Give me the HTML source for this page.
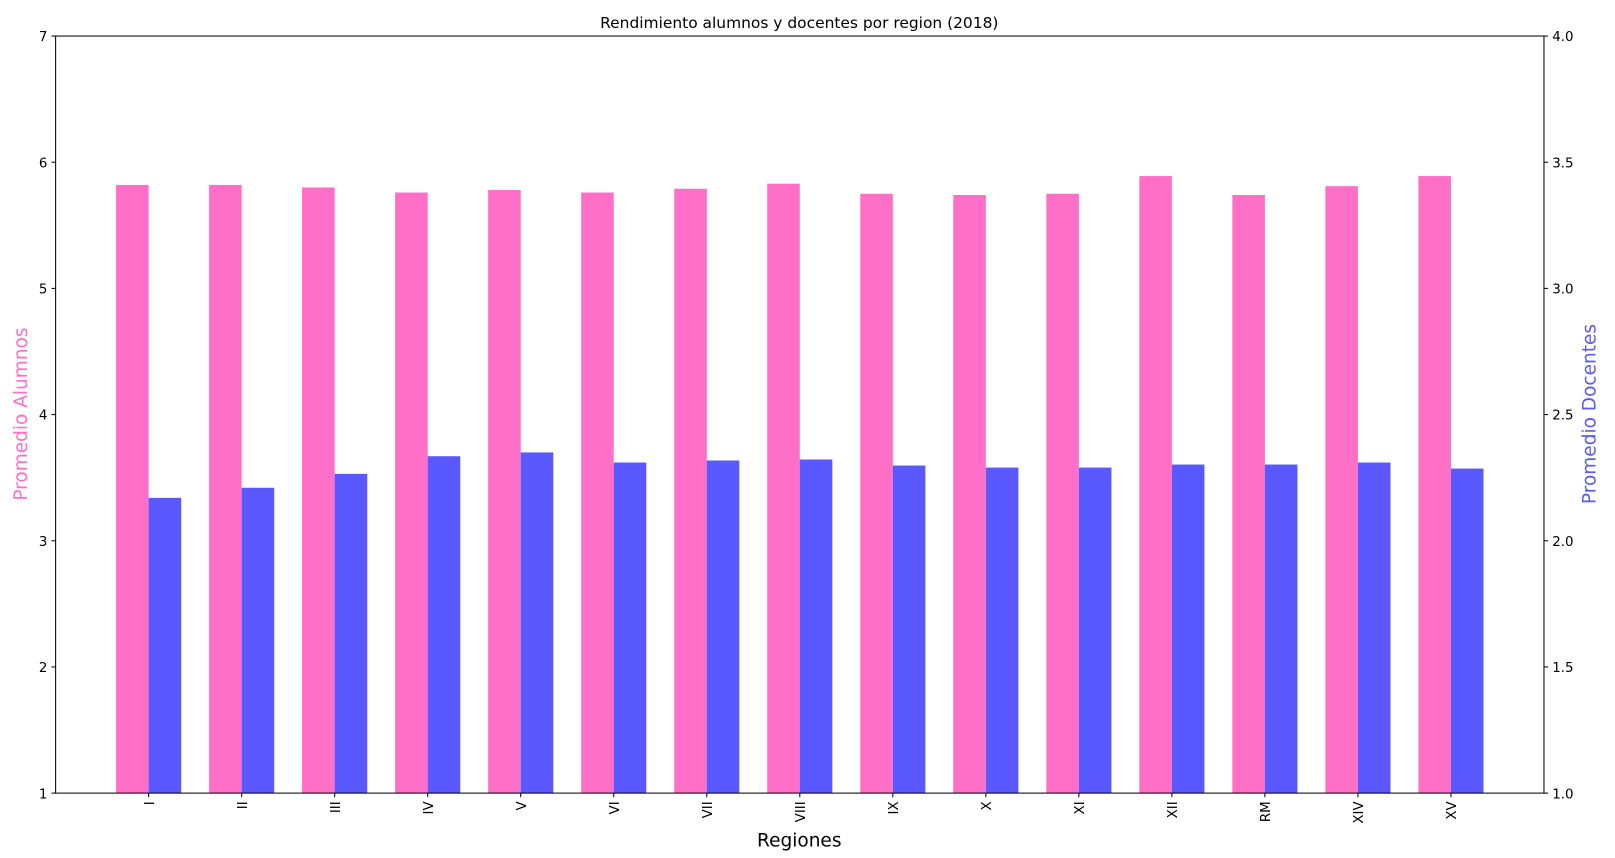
<!DOCTYPE html>
<html><head><meta charset="utf-8"><style>
body{margin:0;background:#fff;}
svg text{font-family:"DejaVu Sans","Liberation Sans",sans-serif;}
</style></head><body>
<svg id="chart" width="1615" height="853" xmlns="http://www.w3.org/2000/svg">
<g transform="scale(1.03)">
<text x="776" y="27" font-size="15" text-anchor="middle">Rendimiento alumnos y docentes por region (2018)</text>
<g id="bars"></g>
<rect x="54" y="35" width="1445" height="735" fill="none" stroke="#000" stroke-width="1"/>
<g id="axes"></g>
<text x="776" y="822" font-size="18" text-anchor="middle">Regiones</text>
<text transform="translate(26,402) rotate(-90)" font-size="18" fill="#ff6ec7" text-anchor="middle">Promedio Alumnos</text>
<text transform="translate(1549,402) rotate(-90)" font-size="18" fill="#5959ff" text-anchor="middle">Promedio Docentes</text>
</g>
</svg>
<script>
const regions=["I","II","III","IV","V","VI","VII","VIII","IX","X","XI","XII","RM","XIV","XV"];
const alumnos=[5.82,5.82,5.80,5.76,5.78,5.76,5.79,5.83,5.75,5.74,5.75,5.89,5.74,5.81,5.89];
const docentes=[2.17,2.21,2.265,2.335,2.35,2.31,2.318,2.322,2.298,2.29,2.29,2.302,2.302,2.31,2.286];
const leftTicks=[1,2,3,4,5,6,7];
const rightTicks=[1.0,1.5,2.0,2.5,3.0,3.5,4.0];
const NS="http://www.w3.org/2000/svg";
const L=54,R=1499,T=35,B=770;
const xs=i=>L+(i+1)*(R-L)/16;
const yL=v=>B-(v-1)/6*(B-T);
const yR=v=>B-(v-1)/3*(B-T);
const bw=0.35*(R-L)/16;
const bars=document.getElementById('bars'),axes=document.getElementById('axes');
function mk(t,a,p){const e=document.createElementNS(NS,t);for(const k in a)e.setAttribute(k,a[k]);p.appendChild(e);return e;}
regions.forEach((r,i)=>{
 const c=xs(i);
 let e=mk('rect',{x:c-bw,y:yL(alumnos[i]),width:bw,height:B-yL(alumnos[i]),fill:'#ff6ec7'},bars);
 
 
 e=mk('rect',{x:c,y:yR(docentes[i]),width:bw,height:B-yR(docentes[i]),fill:'#5959ff'},bars);
 
 
 mk('line',{x1:c,x2:c,y1:B,y2:B+4,stroke:'#000'},axes);
 e=mk('text',{transform:`translate(${c+5},${B+8}) rotate(-90)`,'font-size':13,'text-anchor':'end'},axes);
 e.textContent=r;
 
 
});
leftTicks.forEach(v=>{
 const y=yL(v);
 mk('line',{x1:L-4,x2:L,y1:y,y2:y,stroke:'#000'},axes);
 const e=mk('text',{x:L-8,y:y+5,'font-size':13,'text-anchor':'end'},axes);
 e.textContent=v;
 
 
});
rightTicks.forEach(v=>{
 const y=yR(v);
 mk('line',{x1:R,x2:R+4,y1:y,y2:y,stroke:'#000'},axes);
 const e=mk('text',{x:R+8,y:y+5,'font-size':13},axes);
 e.textContent=v.toFixed(1);
 
 
});
</script>
</body></html>
